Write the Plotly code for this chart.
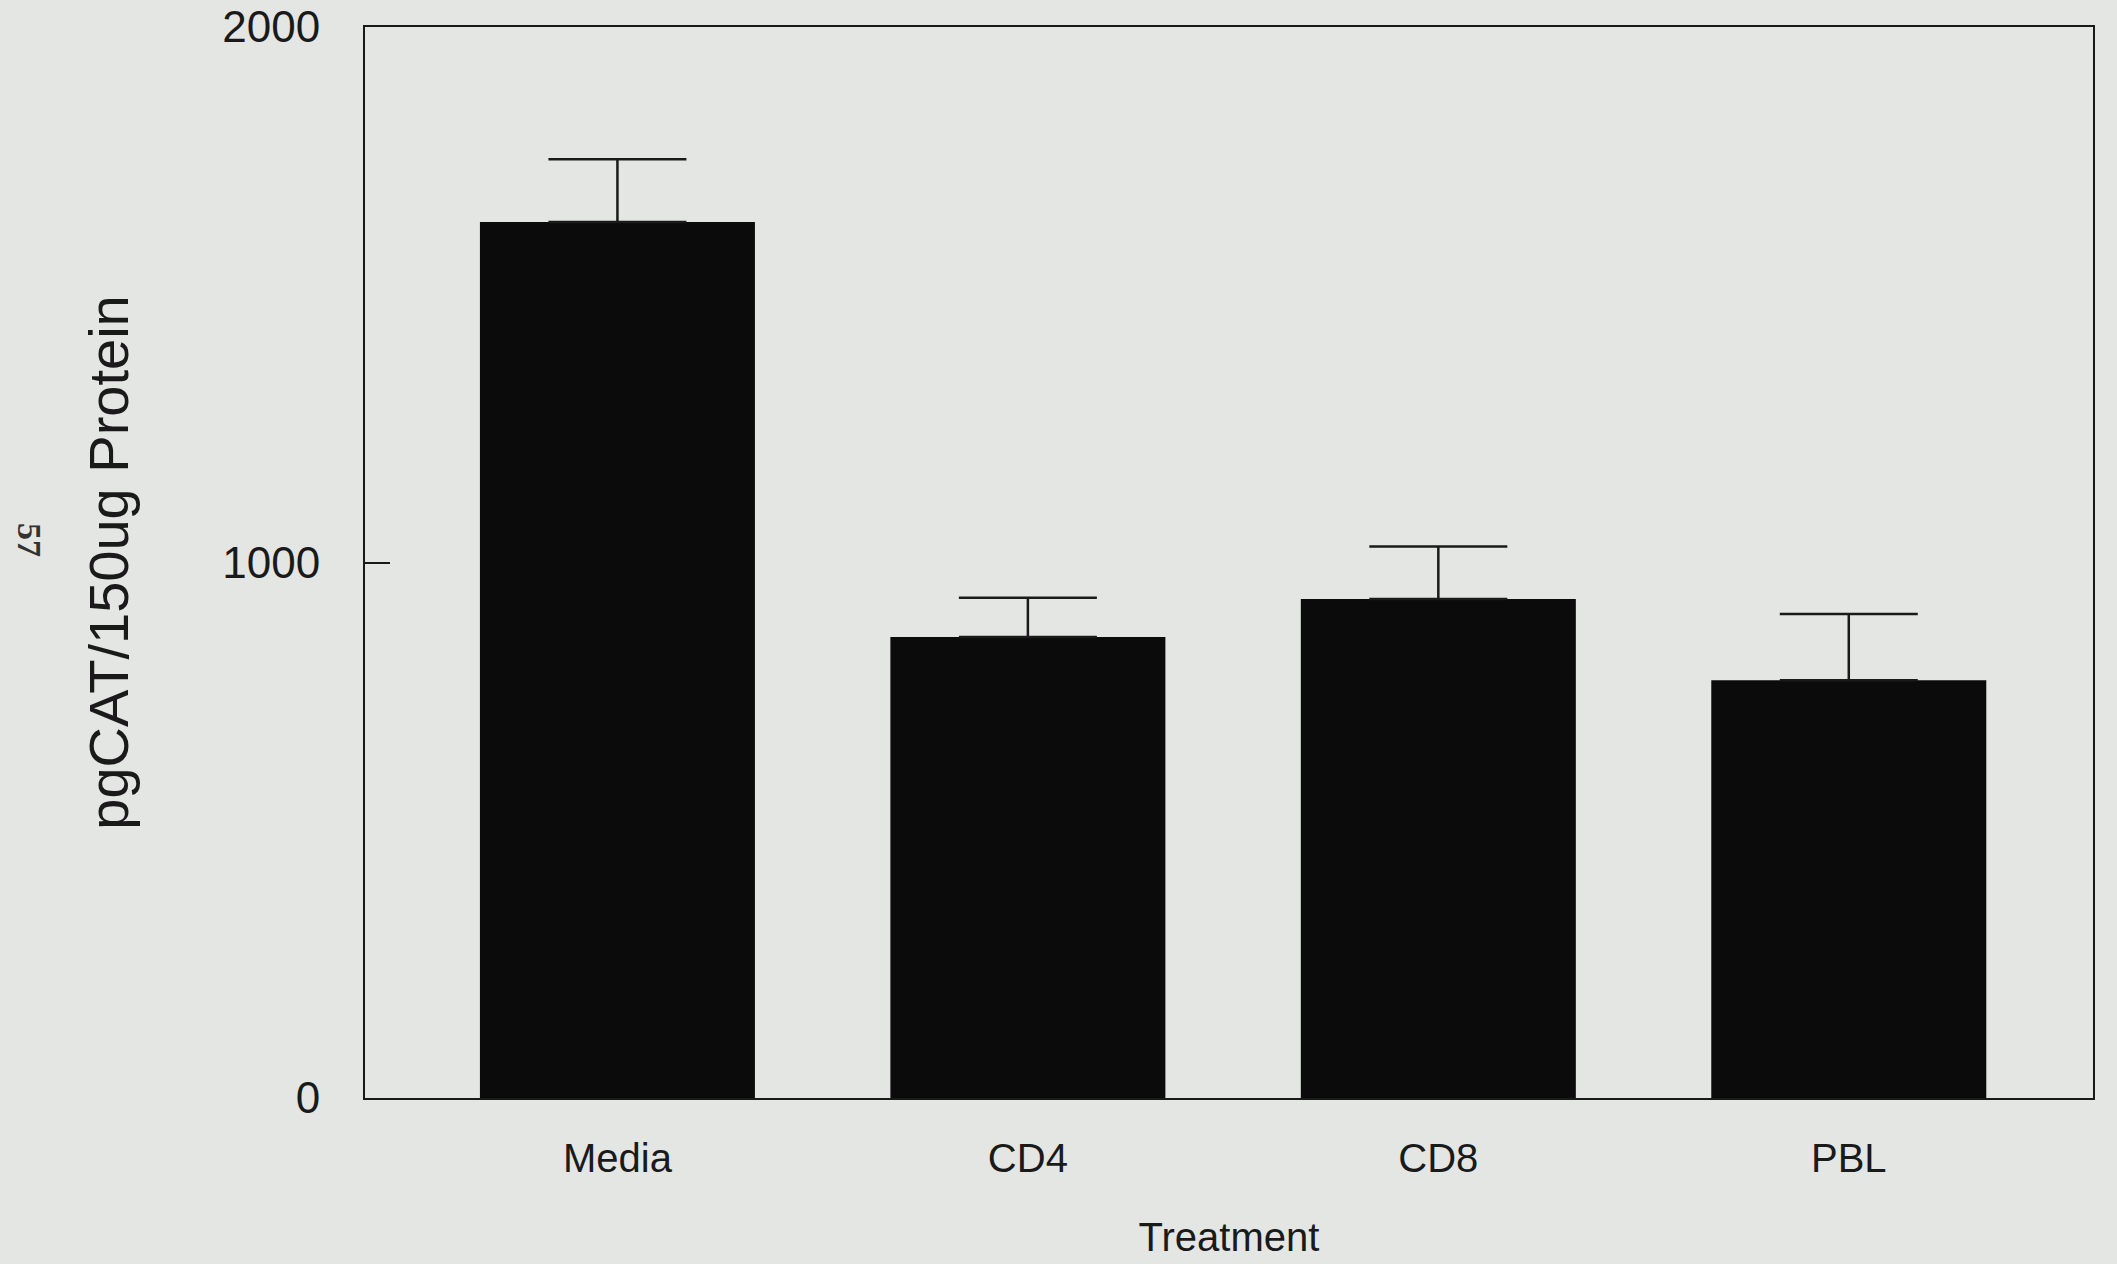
import plotly.graph_objects as go

# CAT activity per treatment (mean with upper SE)
treatments = ["Media", "CD4", "CD8", "PBL"]
cat_activity = [1636, 861, 932, 780]
cat_error = [117, 73, 98, 124]

y_ticks = [0, 1000, 2000]
y_tick_labels = ["0", "1000", "2000"]

bg = "#e4e6e4"
ink = "#1a1a1a"
font_family = "Liberation Sans, Arial, Helvetica, sans-serif"

fig = go.Figure()

fig.add_trace(go.Bar(
    x=treatments,
    y=cat_activity,
    width=0.67,
    marker=dict(color="#0b0b0b", line=dict(width=0)),
    error_y=dict(
        type="data",
        symmetric=False,
        array=cat_error,
        arrayminus=[0] * len(cat_error),
        color=ink,
        thickness=2.5,
        width=69,
    ),
    showlegend=False,
))

fig.update_layout(
    width=2117,
    height=1264,
    paper_bgcolor=bg,
    plot_bgcolor=bg,
    margin=dict(l=365, r=24, t=27, b=166),
    font=dict(family=font_family, color=ink),
    bargap=0.33,
    xaxis=dict(
        range=[-0.615, 3.595],
        automargin=False,
        showline=True,
        linecolor=ink,
        linewidth=2,
        mirror=True,
        ticks="",
        showgrid=False,
        zeroline=False,
        tickfont=dict(size=40, family=font_family, color=ink),
        ticklabelstandoff=24,
        title=dict(text="Treatment", font=dict(size=40, family=font_family, color=ink),
                   standoff=44),
    ),
    yaxis=dict(
        range=[0, 2000],
        automargin=False,
        tickvals=y_ticks,
        ticktext=y_tick_labels,
        showline=True,
        linecolor=ink,
        linewidth=2,
        mirror=True,
        ticks="inside",
        ticklen=25,
        tickwidth=2,
        tickcolor=ink,
        showgrid=False,
        zeroline=False,
        tickfont=dict(size=44, family=font_family, color=ink),
        ticklabelstandoff=34,
        title=dict(text="pgCAT/150ug Protein",
                   font=dict(size=56, family=font_family, color=ink),
                   standoff=76),
    ),
)

# Page number printed sideways in the margin
fig.add_annotation(
    text="<b>57</b>",
    xref="paper", yref="paper",
    x=(30 - 365) / 1728, y=1 - (540 - 27) / 1071,
    xanchor="center", yanchor="middle",
    showarrow=False,
    textangle=90,
    font=dict(size=34, family="Liberation Serif, serif", color="#333333"),
)

fig.write_html("out.html")
